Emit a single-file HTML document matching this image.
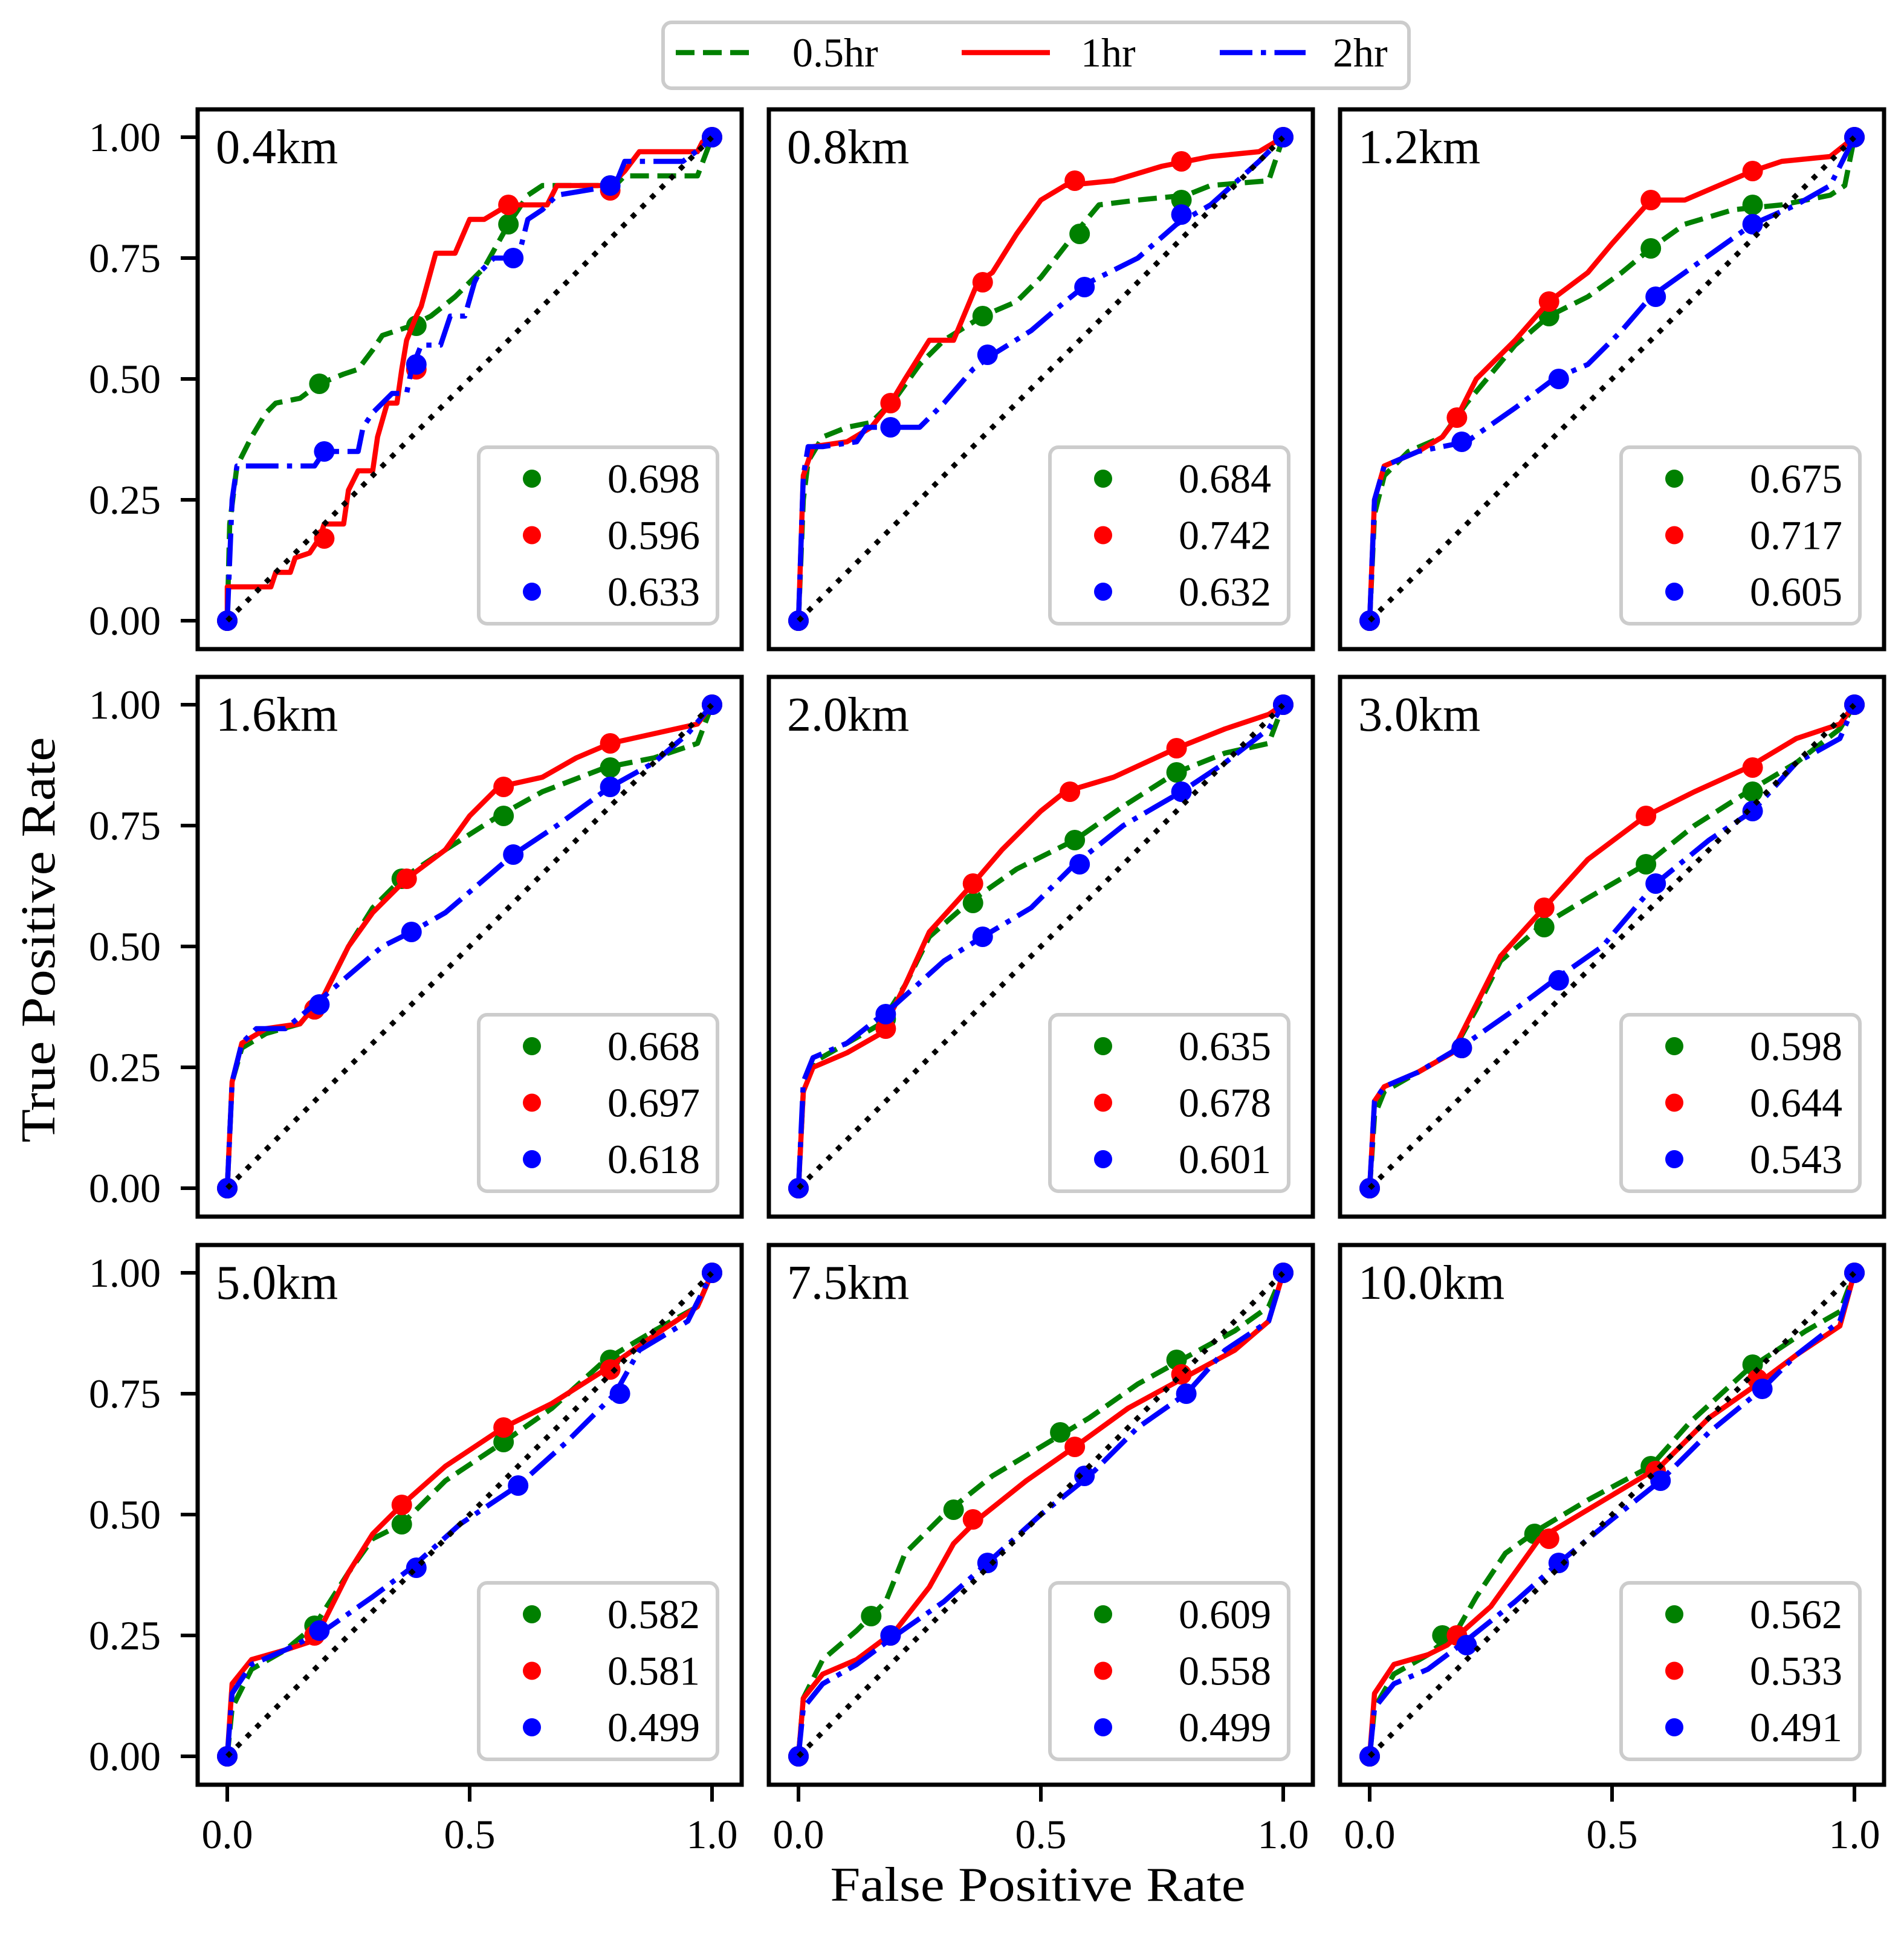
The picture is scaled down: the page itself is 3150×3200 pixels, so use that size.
<!DOCTYPE html>
<html><head><meta charset="utf-8"><style>
html,body{margin:0;padding:0;background:#fff;}
svg{display:block;font-family:"Liberation Serif",serif;}
</style></head><body>
<svg id="chart" width="3150" height="3200" viewBox="0 0 3150 3200" xmlns="http://www.w3.org/2000/svg">
<g id="top-legend">
 <rect x="1097" y="37" width="1234" height="109" rx="14" fill="#fff" stroke="#cccccc" stroke-width="6"/>
 <g><line x1="1118" y1="87" x2="1250" y2="87" stroke="#008000" stroke-width="8.5" stroke-dasharray="31,14"/><text x="1311" y="110" font-size="68">0.5hr</text></g>
 <g><line x1="1591" y1="87" x2="1737" y2="87" stroke="#ff0000" stroke-width="8.5"/><text x="1788" y="110" font-size="68">1hr</text></g>
 <g><line x1="2018" y1="87" x2="2160" y2="87" stroke="#0000ff" stroke-width="8.5" stroke-dasharray="54,14,8.5,14"/><text x="2205" y="110" font-size="68">2hr</text></g>
</g>
<text x="1717" y="3145" font-size="80" text-anchor="middle" textLength="687" lengthAdjust="spacingAndGlyphs">False Positive Rate</text>
<text x="0" y="0" font-size="80" text-anchor="middle" textLength="671" lengthAdjust="spacingAndGlyphs" transform="translate(90,1555) rotate(-90)">True Positive Rate</text>
<g id="panels"></g>
</svg>
<script>
const titles = ["0.4km","0.8km","1.2km","1.6km","2.0km","3.0km","5.0km","7.5km","10.0km"];
const aucG = ["0.698","0.684","0.675","0.668","0.635","0.598","0.582","0.609","0.562"];
const aucR = ["0.596","0.742","0.717","0.697","0.678","0.644","0.581","0.558","0.533"];
const aucB = ["0.633","0.632","0.605","0.618","0.601","0.543","0.499","0.499","0.491"];
const xTicks = [0, 0.5, 1];
const xTickLabels = ["0.0","0.5","1.0"];
const yTicks = [0, 0.25, 0.5, 0.75, 1];
const yTickLabels = ["0.00","0.25","0.50","0.75","1.00"];

// panel 1 (0.4km)
const p1g = [[0,0],[0.005,0.2],[0.02,0.32],[0.05,0.38],[0.08,0.43],[0.1,0.45],[0.15,0.46],[0.19,0.49],[0.24,0.51],[0.27,0.52],[0.3,0.56],[0.32,0.59],[0.38,0.61],[0.42,0.63],[0.47,0.67],[0.5,0.7],[0.53,0.73],[0.58,0.82],[0.62,0.88],[0.65,0.9],[0.8,0.9],[0.82,0.92],[0.97,0.92],[1,1]];
const p1gm = [[0,0],[0.19,0.49],[0.39,0.61],[0.58,0.82],[0.79,0.9],[1,1]];
const p1r = [[0,0],[0,0.07],[0.09,0.07],[0.1,0.1],[0.13,0.1],[0.14,0.13],[0.17,0.14],[0.19,0.17],[0.2,0.2],[0.24,0.2],[0.25,0.27],[0.27,0.31],[0.3,0.31],[0.31,0.38],[0.33,0.45],[0.35,0.45],[0.36,0.52],[0.37,0.58],[0.39,0.63],[0.4,0.65],[0.43,0.76],[0.47,0.76],[0.5,0.83],[0.53,0.83],[0.58,0.86],[0.66,0.86],[0.68,0.9],[0.79,0.9],[0.82,0.93],[0.85,0.97],[0.97,0.97],[0.98,0.99],[1,1]];
const p1rm = [[0,0],[0.2,0.17],[0.39,0.52],[0.58,0.86],[0.79,0.89],[1,1]];
const p1b = [[0,0],[0.01,0.25],[0.02,0.32],[0.18,0.32],[0.2,0.35],[0.27,0.35],[0.28,0.4],[0.3,0.43],[0.34,0.47],[0.37,0.47],[0.38,0.52],[0.4,0.57],[0.44,0.57],[0.46,0.63],[0.49,0.63],[0.51,0.7],[0.52,0.72],[0.55,0.75],[0.6,0.75],[0.62,0.83],[0.65,0.85],[0.68,0.88],[0.8,0.9],[0.82,0.95],[0.94,0.95],[0.98,0.98],[1,1]];
const p1bm = [[0,0],[0.2,0.35],[0.39,0.53],[0.59,0.75],[0.79,0.9],[1,1]];
// panel 2 (0.8km)
const p2g = [[0,0],[0.01,0.25],[0.02,0.33],[0.05,0.38],[0.1,0.4],[0.15,0.41],[0.2,0.46],[0.25,0.53],[0.3,0.58],[0.38,0.63],[0.45,0.66],[0.5,0.71],[0.57,0.8],[0.62,0.86],[0.7,0.87],[0.8,0.88],[0.85,0.9],[0.97,0.91],[0.99,0.97],[1,1]];
const p2gm = [[0,0],[0.38,0.63],[0.58,0.8],[0.79,0.87],[1,1]];
const p2r = [[0,0],[0.01,0.3],[0.03,0.36],[0.1,0.37],[0.15,0.4],[0.19,0.45],[0.22,0.5],[0.27,0.58],[0.32,0.58],[0.37,0.7],[0.4,0.72],[0.45,0.8],[0.5,0.87],[0.55,0.9],[0.65,0.91],[0.75,0.94],[0.85,0.96],[0.95,0.97],[1,1]];
const p2rm = [[0,0],[0.19,0.45],[0.38,0.7],[0.57,0.91],[0.79,0.95],[1,1]];
const p2b = [[0,0],[0.01,0.3],[0.02,0.36],[0.05,0.36],[0.12,0.37],[0.14,0.4],[0.25,0.4],[0.3,0.45],[0.36,0.52],[0.4,0.55],[0.48,0.6],[0.55,0.66],[0.6,0.7],[0.7,0.75],[0.78,0.82],[0.85,0.86],[0.95,0.95],[1,1]];
const p2bm = [[0,0],[0.19,0.4],[0.39,0.55],[0.59,0.69],[0.79,0.84],[1,1]];
// panel 3 (1.2km)
const p3g = [[0,0],[0.01,0.22],[0.03,0.3],[0.08,0.35],[0.15,0.38],[0.2,0.45],[0.3,0.57],[0.37,0.63],[0.45,0.67],[0.52,0.72],[0.58,0.77],[0.65,0.82],[0.75,0.85],[0.85,0.86],[0.95,0.88],[0.98,0.9],[1,1]];
const p3gm = [[0,0],[0.37,0.63],[0.58,0.77],[0.79,0.86],[1,1]];
const p3r = [[0,0],[0.01,0.25],[0.03,0.32],[0.1,0.35],[0.15,0.38],[0.18,0.42],[0.22,0.5],[0.3,0.58],[0.37,0.66],[0.45,0.72],[0.5,0.78],[0.58,0.87],[0.65,0.87],[0.72,0.9],[0.79,0.93],[0.85,0.95],[0.95,0.96],[1,1]];
const p3rm = [[0,0],[0.18,0.42],[0.37,0.66],[0.58,0.87],[0.79,0.93],[1,1]];
const p3b = [[0,0],[0.01,0.25],[0.03,0.32],[0.1,0.35],[0.2,0.37],[0.3,0.44],[0.38,0.5],[0.45,0.53],[0.52,0.6],[0.58,0.67],[0.65,0.72],[0.72,0.77],[0.79,0.82],[0.88,0.86],[0.95,0.9],[1,1]];
const p3bm = [[0,0],[0.19,0.37],[0.39,0.5],[0.59,0.67],[0.79,0.82],[1,1]];
// panel 4 (1.6km)
const p4g = [[0,0],[0.01,0.22],[0.03,0.29],[0.08,0.32],[0.15,0.34],[0.2,0.4],[0.25,0.5],[0.3,0.58],[0.36,0.64],[0.45,0.7],[0.56,0.77],[0.65,0.82],[0.78,0.87],[0.88,0.89],[0.97,0.92],[1,1]];
const p4gm = [[0,0],[0.18,0.37],[0.36,0.64],[0.57,0.77],[0.79,0.87],[1,1]];
const p4r = [[0,0],[0.01,0.22],[0.03,0.3],[0.08,0.33],[0.15,0.34],[0.2,0.4],[0.25,0.5],[0.3,0.57],[0.37,0.64],[0.45,0.7],[0.5,0.77],[0.56,0.83],[0.65,0.85],[0.72,0.89],[0.79,0.92],[0.88,0.94],[0.97,0.96],[1,1]];
const p4rm = [[0,0],[0.18,0.37],[0.37,0.64],[0.57,0.83],[0.79,0.92],[1,1]];
const p4b = [[0,0],[0.01,0.22],[0.03,0.3],[0.06,0.33],[0.12,0.33],[0.18,0.38],[0.25,0.44],[0.32,0.5],[0.38,0.53],[0.45,0.57],[0.52,0.63],[0.59,0.69],[0.68,0.75],[0.79,0.83],[0.88,0.88],[0.95,0.94],[1,1]];
const p4bm = [[0,0],[0.19,0.38],[0.38,0.53],[0.59,0.69],[0.79,0.83],[1,1]];
// panel 5 (2.0km)
const p5g = [[0,0],[0.01,0.2],[0.03,0.26],[0.1,0.3],[0.17,0.34],[0.22,0.42],[0.27,0.52],[0.35,0.59],[0.45,0.66],[0.57,0.72],[0.67,0.79],[0.78,0.86],[0.88,0.9],[0.97,0.92],[1,1]];
const p5gm = [[0,0],[0.18,0.35],[0.36,0.59],[0.57,0.72],[0.78,0.86],[1,1]];
const p5r = [[0,0],[0.01,0.2],[0.03,0.25],[0.1,0.28],[0.17,0.32],[0.22,0.42],[0.27,0.53],[0.36,0.63],[0.42,0.7],[0.5,0.78],[0.55,0.82],[0.65,0.85],[0.78,0.91],[0.88,0.95],[0.97,0.98],[1,1]];
const p5rm = [[0,0],[0.18,0.33],[0.36,0.63],[0.56,0.82],[0.78,0.91],[1,1]];
const p5b = [[0,0],[0.01,0.22],[0.03,0.27],[0.1,0.3],[0.2,0.38],[0.3,0.47],[0.38,0.52],[0.48,0.58],[0.57,0.67],[0.67,0.75],[0.79,0.82],[0.88,0.88],[0.97,0.95],[1,1]];
const p5bm = [[0,0],[0.18,0.36],[0.38,0.52],[0.58,0.67],[0.79,0.82],[1,1]];
// panel 6 (3.0km)
const p6g = [[0,0],[0.01,0.15],[0.03,0.2],[0.1,0.24],[0.17,0.28],[0.22,0.37],[0.27,0.47],[0.35,0.54],[0.45,0.6],[0.57,0.67],[0.67,0.75],[0.78,0.82],[0.88,0.88],[0.97,0.95],[1,1]];
const p6gm = [[0,0],[0.19,0.29],[0.36,0.54],[0.57,0.67],[0.79,0.82],[1,1]];
const p6r = [[0,0],[0.01,0.18],[0.03,0.21],[0.1,0.24],[0.17,0.28],[0.22,0.38],[0.27,0.48],[0.36,0.58],[0.45,0.68],[0.57,0.77],[0.67,0.82],[0.78,0.87],[0.88,0.93],[0.97,0.96],[1,1]];
const p6rm = [[0,0],[0.19,0.29],[0.36,0.58],[0.57,0.77],[0.79,0.87],[1,1]];
const p6b = [[0,0],[0.01,0.18],[0.03,0.21],[0.1,0.24],[0.2,0.3],[0.3,0.37],[0.38,0.43],[0.48,0.5],[0.59,0.63],[0.7,0.72],[0.79,0.78],[0.88,0.88],[0.97,0.93],[1,1]];
const p6bm = [[0,0],[0.19,0.29],[0.39,0.43],[0.59,0.63],[0.79,0.78],[1,1]];
// panel 7 (5.0km)
const p7g = [[0,0],[0.01,0.1],[0.05,0.18],[0.12,0.22],[0.18,0.27],[0.25,0.38],[0.3,0.45],[0.36,0.48],[0.45,0.57],[0.57,0.65],[0.67,0.72],[0.78,0.82],[0.88,0.88],[0.97,0.93],[1,1]];
const p7gm = [[0,0],[0.18,0.27],[0.36,0.48],[0.57,0.65],[0.79,0.82],[1,1]];
const p7r = [[0,0],[0.01,0.15],[0.05,0.2],[0.12,0.22],[0.18,0.24],[0.25,0.38],[0.3,0.46],[0.36,0.52],[0.45,0.6],[0.57,0.68],[0.67,0.73],[0.78,0.8],[0.88,0.87],[0.97,0.93],[1,1]];
const p7rm = [[0,0],[0.18,0.25],[0.36,0.52],[0.57,0.68],[0.79,0.8],[1,1]];
const p7b = [[0,0],[0.01,0.13],[0.05,0.19],[0.12,0.22],[0.2,0.26],[0.3,0.33],[0.38,0.39],[0.48,0.48],[0.6,0.56],[0.7,0.65],[0.8,0.75],[0.85,0.84],[0.95,0.9],[1,1]];
const p7bm = [[0,0],[0.19,0.26],[0.39,0.39],[0.6,0.56],[0.81,0.75],[1,1]];
// panel 8 (7.5km)
const p8g = [[0,0],[0.01,0.12],[0.05,0.2],[0.12,0.26],[0.18,0.32],[0.22,0.42],[0.3,0.5],[0.4,0.58],[0.5,0.64],[0.6,0.7],[0.7,0.77],[0.79,0.82],[0.9,0.88],[0.97,0.93],[1,1]];
const p8gm = [[0,0],[0.15,0.29],[0.32,0.51],[0.54,0.67],[0.78,0.82],[1,1]];
const p8r = [[0,0],[0.01,0.12],[0.05,0.17],[0.12,0.2],[0.2,0.26],[0.27,0.35],[0.32,0.44],[0.37,0.49],[0.47,0.57],[0.57,0.64],[0.68,0.72],[0.79,0.78],[0.9,0.84],[0.97,0.9],[1,1]];
const p8rm = [[0,0],[0.19,0.25],[0.36,0.49],[0.57,0.64],[0.79,0.79],[1,1]];
const p8b = [[0,0],[0.01,0.1],[0.05,0.15],[0.12,0.19],[0.2,0.25],[0.3,0.32],[0.39,0.4],[0.5,0.5],[0.6,0.58],[0.7,0.68],[0.8,0.75],[0.88,0.84],[0.97,0.9],[1,1]];
const p8bm = [[0,0],[0.19,0.25],[0.39,0.4],[0.59,0.58],[0.8,0.75],[1,1]];
// panel 9 (10.0km)
const p9g = [[0,0],[0.01,0.1],[0.05,0.17],[0.12,0.21],[0.18,0.26],[0.22,0.33],[0.28,0.42],[0.35,0.47],[0.45,0.53],[0.58,0.6],[0.66,0.69],[0.78,0.8],[0.9,0.88],[0.97,0.92],[1,1]];
const p9gm = [[0,0],[0.15,0.25],[0.34,0.46],[0.58,0.6],[0.79,0.81],[1,1]];
const p9r = [[0,0],[0.01,0.13],[0.05,0.19],[0.12,0.21],[0.16,0.23],[0.25,0.31],[0.3,0.38],[0.35,0.45],[0.45,0.51],[0.6,0.6],[0.7,0.7],[0.8,0.77],[0.88,0.83],[0.97,0.89],[1,1]];
const p9rm = [[0,0],[0.18,0.25],[0.37,0.45],[0.59,0.59],[0.8,0.78],[1,1]];
const p9b = [[0,0],[0.01,0.1],[0.05,0.15],[0.12,0.18],[0.2,0.24],[0.3,0.32],[0.39,0.4],[0.5,0.49],[0.6,0.57],[0.7,0.67],[0.81,0.76],[0.88,0.83],[0.97,0.9],[1,1]];
const p9bm = [[0,0],[0.2,0.23],[0.39,0.4],[0.6,0.57],[0.81,0.76],[1,1]];

const greenCurves = [p1g,p2g,p3g,p4g,p5g,p6g,p7g,p8g,p9g];
const greenMarks = [p1gm,p2gm,p3gm,p4gm,p5gm,p6gm,p7gm,p8gm,p9gm];
const redCurves = [p1r,p2r,p3r,p4r,p5r,p6r,p7r,p8r,p9r];
const redMarks = [p1rm,p2rm,p3rm,p4rm,p5rm,p6rm,p7rm,p8rm,p9rm];
const blueCurves = [p1b,p2b,p3b,p4b,p5b,p6b,p7b,p8b,p9b];
const blueMarks = [p1bm,p2bm,p3bm,p4bm,p5bm,p6bm,p7bm,p8bm,p9bm];

const NS = "http://www.w3.org/2000/svg";
const root = document.getElementById("panels");
function mk(tag, attrs, parent) {
  const e = document.createElementNS(NS, tag);
  for (const k in attrs) e.setAttribute(k, attrs[k]);
  parent.appendChild(e);
  return e;
}
const panelLeft = [327, 1272, 2217];
const panelTop = [181, 1120, 2060];
const PW = 900, PH = 893;
const seriesStyle = [
  {color:"#008000", dash:"31,14", key:"0.5hr"},
  {color:"#ff0000", dash:"", key:"1hr"},
  {color:"#0000ff", dash:"54,14,8.5,14", key:"2hr"}
];

for (let i = 0; i < 9; i++) {
  const L = panelLeft[i % 3], T = panelTop[Math.floor(i / 3)];
  const xs = v => L + 49 + v * 802;
  const ys = v => T + 46 + (1 - v) * 800;
  const g = mk("g", {}, root);
  
  

  if (i % 3 === 0) {
    for (let k = 0; k < yTicks.length; k++) {
      const t = mk("line", {x1: L - 28, x2: L, y1: ys(yTicks[k]), y2: ys(yTicks[k]), stroke: "#000", "stroke-width": 6}, g);
      
      
      const tl = mk("text", {x: L - 61, y: ys(yTicks[k]) + 23, "font-size": 68, "text-anchor": "end"}, g);
      tl.textContent = yTickLabels[k];
      
      
    }
  }
  if (i >= 6) {
    for (let k = 0; k < xTicks.length; k++) {
      const t = mk("line", {x1: xs(xTicks[k]), x2: xs(xTicks[k]), y1: T + PH, y2: T + PH + 28, stroke: "#000", "stroke-width": 6}, g);
      
      
      const tl = mk("text", {x: xs(xTicks[k]), y: 3058, "font-size": 68, "text-anchor": "middle"}, g);
      tl.textContent = xTickLabels[k];
      
      
    }
  }

  const curvesAll = [greenCurves[i], redCurves[i], blueCurves[i]];
  const marksAll = [greenMarks[i], redMarks[i], blueMarks[i]];
  for (let s = 0; s < 3; s++) {
    const st = seriesStyle[s];
    const d = curvesAll[s].map((p, j) => (j ? "L" : "M") + xs(p[0]).toFixed(1) + "," + ys(p[1]).toFixed(1)).join(" ");
    const path = mk("path", {d: d, fill: "none", stroke: st.color, "stroke-width": 8.5, "stroke-linejoin": "round"}, g);
    if (st.dash) path.setAttribute("stroke-dasharray", st.dash);
    
    
    for (const p of marksAll[s]) {
      const c = mk("circle", {cx: xs(p[0]), cy: ys(p[1]), r: 17, fill: st.color}, g);
      
      
    }
  }
  const diag = mk("line", {x1: xs(0), y1: ys(0), x2: xs(1), y2: ys(1), stroke: "#000", "stroke-width": 8.5, "stroke-dasharray": "8.5,14"}, g);
  
  

  const fr = mk("rect", {x: L, y: T, width: PW, height: PH, fill: "none", stroke: "#000", "stroke-width": 7}, g);
  
  

  const title = mk("text", {x: L + 30, y: T + 89, "font-size": 80}, g);
  title.textContent = titles[i];
  
  

  const lg = mk("g", {}, g);
  
  
  mk("rect", {x: L + 465, y: T + 559, width: 395, height: 292, rx: 14, fill: "#fff", "fill-opacity": 0.85, stroke: "#cccccc", "stroke-width": 6}, lg);
  const aucs = [aucG[i], aucR[i], aucB[i]];
  for (let s = 0; s < 3; s++) {
    const cy = T + 611 + s * 93.5;
    const c = mk("circle", {cx: L + 553, cy: cy, r: 15, fill: seriesStyle[s].color}, lg);
    
    
    const t = mk("text", {x: L + 831, y: cy + 23, "font-size": 68, "text-anchor": "end"}, lg);
    t.textContent = aucs[s];
    
    
  }
}
</script>
</body></html>
